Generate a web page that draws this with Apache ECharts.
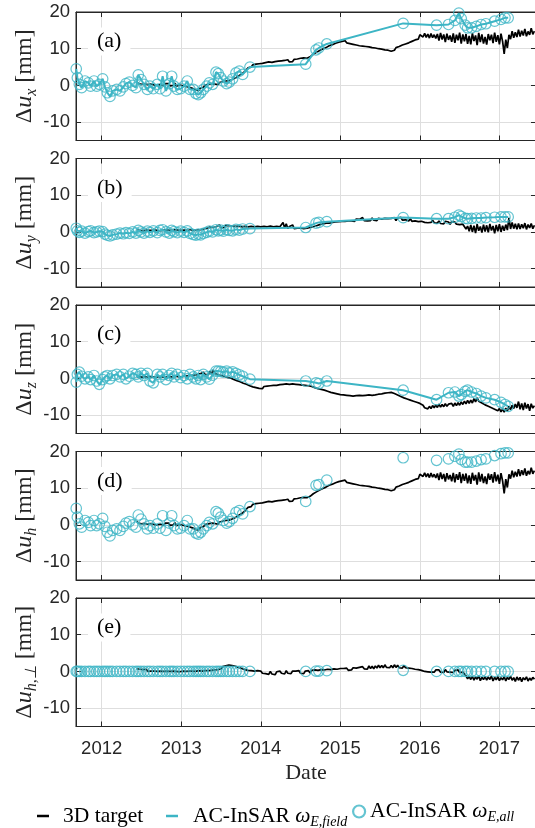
<!DOCTYPE html>
<html><head><meta charset="utf-8">
<script src="https://cdn.jsdelivr.net/npm/echarts@6/dist/echarts.min.js"></script>
<style>html,body{margin:0;padding:0;background:#fff}#c{width:535px;height:828px}</style>
</head><body><div id="c"></div>
<script>
// ---------- data ----------
const xTicks = [2012, 2013, 2014, 2015, 2016, 2017];
const yTicks = [-10, 0, 10, 20];
const panelLabels = ['(a)', '(b)', '(c)', '(d)', '(e)'];
const componentSubs = ['x', 'y', 'z', 'h', 'h,⊥'];

// 3D target time series, regular sampling every 0.02 yr from 2012.44 (decimal years)
const targetStart = 2012.44, targetStep = 0.02;
const target_ux = [
  1.1, 0.5, 0.9, 0.3, 0.8, 0.4, 0.9, 0.2, 0.7, 0.4,
  0.7, 0.1, 0.6, 0.0, 0.5, 0.2, 0.7, -0.1, 0.5, 0.1,
  0.5, -0.1, 0.4, 0.0, 0.6, -0.2, 0.3, 0.1, 0.5, -0.1,
  0.2, -0.3, 0.1, -0.5, -0.2, -0.8, -0.6, -1.2, -0.9, -1.4,
  -0.7, -0.2, -0.5, 0.1, -0.2, 0.3, 0.0, 0.5, 0.1, 0.4,
  0.6, 0.2, 0.8, 0.4, 1.0, 0.6, 1.2, 0.8, 1.3, 1.0,
  1.6, 1.3, 2.0, 1.8, 2.6, 2.4, 3.1, 3.0, 3.8, 4.3,
  4.8, 5.3, 5.0, 5.6, 5.2, 5.8, 5.4, 5.9, 5.5, 6.0,
  5.7, 6.2, 5.8, 6.4, 5.9, 6.3, 6.0, 6.5, 6.0, 6.6,
  6.1, 6.7, 6.2, 6.8, 6.3, 7.0, 6.4, 6.9, 6.5, 7.1,
  6.6, 7.2, 6.8, 7.4, 6.9, 7.5, 7.0, 7.4, 7.1, 7.8,
  7.9, 8.5, 8.4, 9.0, 8.9, 9.5, 9.3, 9.9, 9.8, 10.3,
  10.2, 10.8, 10.6, 11.1, 10.9, 11.5, 11.3, 11.8, 11.5, 12.0,
  11.7, 12.2, 11.6, 12.0, 11.4, 11.8, 11.2, 11.6, 11.0, 11.5,
  10.8, 11.3, 10.7, 11.1, 10.6, 11.0, 10.5, 10.9, 10.3, 10.8,
  10.2, 10.6, 10.0, 10.5, 9.9, 10.3, 9.7, 10.2, 9.6, 10.0,
  9.3, 8.9, 9.6, 10.3, 10.0, 10.6, 10.4, 11.0, 10.8, 11.3,
  11.0, 11.6, 11.4, 12.0, 11.8, 12.4, 12.1, 12.6, 13.8, 14.1,
  13.2, 14.2, 13.1, 14.0, 12.9, 14.1, 13.0, 13.8, 12.8, 14.0,
  12.2, 14.3, 12.5, 13.9, 11.8, 14.1, 12.4, 13.6, 11.9, 14.2,
  11.6, 13.8, 12.3, 14.4, 11.4, 13.9, 12.0, 14.0, 11.3, 13.5,
  11.2, 14.2, 12.1, 13.6, 11.0, 14.3, 11.8, 13.9, 11.4, 13.2,
  11.1, 14.0, 12.3, 13.8, 11.5, 14.4, 11.9, 13.7, 11.2, 14.1,
  12.0, 8.6, 12.5, 10.2, 13.8, 12.6, 14.8, 13.0, 14.5, 13.2,
  15.2, 13.3, 14.9, 13.6, 15.4, 13.4, 14.7, 13.8, 15.6, 13.9,
  14.8
];
const target_uy = [
  0.5, 0.0, 0.4, -0.1, 0.3, 0.0, 0.5, 0.1, 0.4, -0.1,
  0.4, 0.0, 0.5, 0.1, 0.3, -0.1, 0.4, 0.1, 0.5, 0.0,
  0.5, 0.1, 0.4, 0.0, 0.6, 0.2, 0.5, 0.1, 0.4, 0.2,
  0.5, 0.0, 0.4, 0.1, 0.6, 0.1, 0.4, 0.0, 0.5, 0.2,
  0.6, 0.3, 0.8, 0.5, 1.0, 0.7, 1.3, 0.8, 1.2, 0.9,
  1.4, 1.0, 1.9, 1.1, 1.6, 1.2, 1.8, 1.3, 1.7, 1.2,
  1.6, 1.1, 1.5, 1.0, 1.6, 1.2, 1.4, 1.0, 1.5, 1.1,
  1.4, 1.0, 1.5, 1.1, 1.4, 0.9, 1.5, 1.1, 1.4, 1.0,
  1.5, 1.1, 1.4, 0.9, 1.6, 1.1, 1.4, 1.0, 1.5, 1.2,
  1.4, 1.0, 2.6, 1.1, 2.2, 0.9, 1.5, 1.0, 1.9, 0.9,
  1.4, 1.0, 1.5, 1.1, 1.4, 0.9, 1.3, 1.0, 1.4, 1.2,
  1.6, 1.4, 1.9, 1.7, 2.2, 2.0, 2.4, 2.2, 2.6, 2.4,
  2.7, 2.4, 2.9, 2.6, 3.1, 2.7, 3.2, 2.8, 3.3, 2.9,
  3.3, 2.9, 3.4, 3.0, 3.5, 3.0, 3.4, 2.9, 3.5, 3.1,
  3.4, 3.0, 3.9, 3.1, 3.6, 3.0, 3.5, 3.1, 3.8, 3.2,
  3.6, 3.1, 3.7, 3.2, 3.5, 3.0, 3.7, 3.2, 3.6, 3.1,
  3.7, 3.2, 3.9, 3.1, 3.8, 3.3, 4.0, 3.2, 3.7, 3.3,
  3.5, 3.0, 3.6, 2.9, 3.4, 3.0, 3.5, 2.8, 3.3, 2.9,
  3.2, 2.6, 3.1, 2.5, 3.0, 2.6, 3.2, 2.5, 2.9, 2.4,
  3.0, 2.3, 2.8, 2.2, 2.9, 2.4, 2.7, 2.1, 2.8, 2.3,
  2.7, 2.1, 2.6, 2.0, 2.5, 2.1, 2.4, 0.8, 1.6, 0.2,
  1.9, 0.0, 1.7, -0.3, 2.1, 0.3, 1.5, -0.2, 2.0, 0.1,
  1.8, -0.1, 2.2, 0.4, 1.6, -0.4, 1.9, 0.2, 2.1, 0.0,
  1.7, 0.3, 2.0, 0.5, 3.8, 0.8, 2.6, 0.9, 2.2, 0.7,
  2.3, 0.8, 2.1, 1.0, 2.4, 0.7, 2.0, 1.1, 2.3, 0.9,
  1.8
];
const target_uz = [
  0.4, -0.1, 0.5, 0.0, 0.3, -0.2, 0.4, 0.1, 0.5, 0.0,
  0.4, -0.1, 0.3, 0.0, 0.5, 0.1, 0.4, -0.1, 0.3, 0.1,
  0.5, 0.0, 0.4, 0.1, 0.6, 0.2, 0.5, 0.0, 0.4, 0.2,
  0.6, 0.2, 0.7, 0.3, 0.8, 0.4, 0.9, 0.5, 1.0, 0.6,
  1.3, 0.9, 1.7, 1.1, 1.6, 1.0, 1.9, 1.2, 2.3, 1.4,
  1.6, 1.0, 1.4, 0.8, 1.1, 0.6, 0.9, 0.3, 0.6, 0.1,
  0.2, -0.3, -0.1, -0.6, -0.5, -0.9, -0.8, -1.3, -1.2, -1.6,
  -1.5, -2.0, -1.8, -2.3, -2.0, -2.5, -2.2, -2.7, -2.3, -2.8,
  -2.2, -2.7, -2.1, -2.6, -2.0, -2.5, -1.9, -2.4, -1.9, -2.4,
  -1.7, -2.2, -1.6, -2.1, -1.5, -2.0, -1.6, -2.1, -1.5, -2.0,
  -1.6, -2.1, -1.7, -2.2, -1.8, -2.3, -1.9, -2.4, -2.0, -2.5,
  -2.2, -2.7, -2.5, -3.0, -2.8, -3.3, -3.0, -3.5, -3.2, -3.7,
  -3.5, -4.0, -3.8, -4.3, -4.0, -4.5, -4.2, -4.6, -4.4, -4.8,
  -4.5, -5.0, -4.6, -5.1, -4.7, -5.2, -4.8, -5.2, -4.7, -5.1,
  -4.6, -5.1, -4.7, -5.2, -4.6, -5.0, -4.5, -5.0, -4.6, -5.1,
  -4.5, -4.9, -4.3, -4.8, -4.2, -4.6, -4.0, -4.4, -3.9, -4.3,
  -3.8, -4.2, -4.1, -4.6, -4.5, -5.0, -4.9, -5.4, -5.3, -5.8,
  -5.6, -6.1, -5.9, -6.4, -6.2, -6.7, -6.5, -7.0, -6.8, -7.3,
  -7.3, -8.0, -7.5, -8.3, -7.6, -8.2, -7.4, -8.0, -7.2, -7.9,
  -7.0, -7.8, -7.1, -7.7, -6.9, -7.6, -7.0, -7.5, -6.8, -7.6,
  -6.7, -7.4, -6.6, -7.3, -6.4, -7.1, -6.2, -6.9, -6.0, -6.8,
  -5.9, -6.7, -5.5, -6.4, -5.3, -6.2, -5.8, -6.7, -6.3, -7.2,
  -6.8, -7.6, -7.2, -8.0, -7.6, -8.4, -8.0, -8.8, -8.2, -9.1,
  -8.3, -9.2, -8.1, -8.9, -7.6, -8.5, -7.3, -8.2, -7.0, -8.0,
  -6.3, -8.4, -6.8, -8.6, -6.6, -8.2, -7.0, -8.8, -6.9, -8.1,
  -7.4
];
// horizontal component: at this resolution the curve read in (d) coincides with (a)
const target_uh = target_ux;
const target_uhp = [
  0.7, 0.2, 0.6, 0.1, 0.5, 0.2, 0.6, 0.0, 0.5, 0.1,
  0.6, 0.1, 0.5, 0.0, 0.4, 0.1, 0.6, 0.0, 0.4, 0.1,
  0.5, 0.0, 0.4, 0.1, 0.5, 0.0, 0.4, -0.1, 0.4, 0.1,
  0.5, 0.0, 0.4, 0.1, 0.6, 0.1, 0.5, 0.0, 0.4, 0.2,
  0.6, 0.1, 0.5, 0.2, 0.7, 0.2, 0.6, 0.3, 0.8, 0.4,
  0.8, 0.5, 1.0, 0.7, 1.3, 1.0, 1.5, 1.2, 1.7, 1.3,
  1.6, 1.2, 1.4, 1.0, 1.1, 0.7, 0.8, 0.4, 0.5, 0.1,
  0.3, -0.2, 0.2, -0.3, 0.1, -0.4, 0.2, -0.3, 0.1, -0.5,
  0.0, -0.6, -0.1, -0.8, 0.0, -0.7, -0.2, -0.9, -0.1, -0.6,
  0.1, -0.5, 0.0, -0.7, 0.2, -0.5, 0.0, -0.6, 0.1, -0.4,
  0.1, -0.4, 0.2, -0.5, 0.0, -0.6, 0.1, -0.3, 0.2, -0.4,
  0.3, -0.1, 0.4, 0.0, 0.3, -0.1, 0.5, 0.1, 0.4, 0.0,
  0.6, 0.2, 0.5, 0.1, 0.7, 0.3, 0.6, 0.2, 0.8, 0.3,
  0.8, 0.4, 0.9, 0.3, 0.8, 0.4, 1.0, 0.5, 0.9, 0.4,
  1.1, 0.6, 1.3, 0.7, 1.2, 0.6, 1.5, 0.8, 1.4, 0.7,
  1.5, 0.9, 1.7, 1.0, 1.6, 1.0, 1.8, 1.1, 1.6, 1.0,
  1.6, 1.0, 1.8, 1.1, 1.7, 1.0, 1.5, 0.9, 1.6, 1.0,
  1.4, 0.9, 1.3, 0.8, 1.2, 0.6, 1.0, 0.5, 0.9, 0.3,
  0.6, 0.0, 0.5, -0.1, 0.4, -0.2, 0.3, -0.2, 0.4, -0.1,
  0.4, -0.2, 0.3, -0.3, 0.5, -0.1, 0.4, -0.2, 0.3, -0.3,
  0.3, -0.2, 0.4, -0.3, 0.2, -0.2, 0.3, -1.2, -2.0, -1.4,
  -2.2, -1.3, -2.4, -1.5, -2.1, -1.2, -2.5, -1.6, -2.2, -1.4,
  -2.4, -1.5, -2.2, -1.3, -2.6, -1.6, -2.3, -1.4, -2.5, -1.7,
  -2.3, -1.4, -2.6, -1.6, -2.2, -1.3, -2.4, -1.7, -2.7, -1.5,
  -2.4, -1.6, -2.8, -1.7, -2.3, -1.5, -2.6, -1.8, -2.4, -1.6,
  -2.1
];

// AC-InSAR acquisitions (decimal years)
const insarDates = [
  2011.680, 2011.694, 2011.719, 2011.748, 2011.790, 2011.832, 2011.861, 2011.903, 2011.937, 2011.970,
  2012.012, 2012.041, 2012.071, 2012.104, 2012.138, 2012.188, 2012.230, 2012.272, 2012.305, 2012.347,
  2012.389, 2012.431, 2012.460, 2012.494, 2012.532, 2012.574, 2012.607, 2012.649, 2012.699, 2012.733,
  2012.766, 2012.808, 2012.850, 2012.880, 2012.909, 2012.951, 2012.993, 2013.035, 2013.076, 2013.110,
  2013.152, 2013.185, 2013.215, 2013.244, 2013.278, 2013.320, 2013.353, 2013.395, 2013.437, 2013.466,
  2013.496, 2013.529, 2013.571, 2013.604, 2013.646, 2013.688, 2013.730, 2013.772, 2013.864,
  2014.565, 2014.695, 2014.730, 2014.830, 2015.790, 2016.210, 2016.360, 2016.440, 2016.490, 2016.520,
  2016.570, 2016.600, 2016.650, 2016.710, 2016.770, 2016.830, 2016.940, 2017.020, 2017.070, 2017.110
];
const insar_ux = [
  4.5, 2.1, 0.3, -0.6, 1.2, 0.7, -0.2, 1.2, -0.2, 0.3,
  1.8, -0.4, -2.0, -3.0, -1.5, -1.1, -1.5, -0.4, 0.5, 0.9,
  0.0, -0.6, 2.9, 1.6, 0.3, -1.1, -0.2, -0.9, 0.3, -0.9,
  2.5, -1.5, 0.5, 2.5, -0.2, -1.1, -0.9, -0.2, 1.2, -1.1,
  -1.1, -2.2, -2.5, -2.0, -1.1, -0.2, 0.7, 0.3, 3.6, 3.2,
  2.1, 1.2, 0.5, 0.9, 1.8, 3.4, 3.9, 3.0, 5.0,
  5.8, 9.7, 10.2, 11.3, 16.9, 16.4, 16.6, 17.7, 19.7, 18.2,
  16.4, 15.7, 15.7, 16.1, 16.6, 16.8, 17.5, 18.0, 18.4, 18.4
];
const insar_uy = [
  1.0, 0.3, -0.1, 0.2, -0.3, 0.1, 0.3, -0.2, 0.0, 0.2,
  0.1, -0.6, -0.9, -1.1, -0.8, -0.6, -0.3, -0.5, -0.2, -0.4,
  0.0, -0.3, 0.4, 0.0, -0.3, 0.2, -0.1, 0.3, -0.2, 0.4,
  0.6, 0.0, -0.3, 0.4, 0.1, -0.2, 0.2, -0.1, 0.3, -0.4,
  -0.7, -0.9, -0.6, -0.8, -0.4, -0.1, 0.2, 0.0, 0.6, 0.3,
  0.5, 0.2, 0.6, 0.4, 0.3, 0.7, 0.5, 0.8, 0.9,
  1.2, 2.4, 2.6, 2.8, 3.9, 3.6, 3.6, 4.0, 4.6, 4.2,
  3.7, 3.6, 3.7, 3.8, 3.8, 3.9, 4.0, 4.1, 4.1, 4.1
];
const insar_uz = [
  -1.0, 1.1, 1.7, 0.6, -0.1, 0.4, -0.3, 0.8, -0.7, -1.6,
  -0.3, 0.4, 0.8, -0.1, 0.8, 1.1, 0.4, 1.1, -0.1, 0.6,
  1.4, 1.1, 0.4, 1.4, 0.8, 1.4, -0.7, -1.2, 1.1, 0.4,
  1.1, -0.3, 0.8, 1.4, 0.4, 1.1, 0.2, 0.8, -0.1, 1.1,
  0.4, -0.1, 0.8, -0.3, 1.1, 0.4, -0.2, 0.9, 2.0, 2.0,
  1.9, 1.7, 2.0, 1.5, 1.8, 1.4, 1.0, 0.6, -0.2,
  -0.7, -1.2, -1.4, -0.7, -3.2, -5.8, -3.9, -3.7, -4.8, -4.4,
  -3.5, -3.2, -3.7, -4.1, -4.8, -5.3, -5.8, -6.5, -7.1, -7.6
];
const insar_uh = [
  4.5, 2.1, 0.3, -0.6, 1.2, 0.7, -0.2, 1.2, -0.2, 0.3,
  1.8, -0.4, -2.0, -3.0, -1.5, -1.1, -1.5, -0.4, 0.5, 0.9,
  0.0, -0.6, 2.7, 1.6, 0.3, -1.1, -0.2, -0.9, 0.3, -0.9,
  2.5, -1.5, 0.5, 2.5, -0.2, -1.1, -0.9, -0.2, 1.2, -1.1,
  -1.1, -2.2, -2.5, -2.0, -1.1, -0.2, 0.7, 0.3, 3.6, 3.2,
  2.1, 1.2, 0.5, 0.9, 1.8, 3.4, 3.9, 3.0, 5.0,
  6.4, 10.8, 11.0, 12.2, 18.3, 17.6, 18.0, 18.7, 19.3, 17.8,
  17.1, 17.1, 17.1, 17.4, 17.8, 18.0, 18.9, 19.4, 19.6, 19.6
];
const insar_uhp = [
  0, 0, 0, 0, 0, 0, 0, 0, 0, 0,
  0, 0, 0, 0, 0, 0, 0, 0, 0, 0,
  0, 0, 0, 0, 0, 0, 0, 0, 0, 0,
  0, 0, 0, 0, 0, 0, 0, 0, 0, 0,
  0, 0, 0, 0, 0, 0, 0, 0, 0, 0,
  0, 0, 0, 0, 0, 0, 0, 0, 0,
  0, 0.1, 0.1, 0.2, 0.3, 0, 0, 0, 0, 0,
  0, 0, 0, 0, 0, 0, 0, 0, 0, 0
];

// ---------- layout / style ----------
const CYAN = '#3db5c5';
const AXC = '#262626';
const panelTops = [12, 158.5, 305, 451.5, 598];
const panelH = 128.5;
const X_MIN = 2011.677, X_MAX = 2017.46;
const Y_MIN = -15, Y_MAX = 20;
const targets = [target_ux, target_uy, target_uz, target_uh, target_uhp];
const insars = [insar_ux, insar_uy, insar_uz, insar_uh, insar_uhp];
const withLine = [true, true, true, false, false];

const SERIF = 'Liberation Serif';
const SANS = 'Liberation Sans';

const grids = [], xAxes = [], yAxes = [], series = [], titles = [];
panelTops.forEach((top, i) => {
  const last = i === 4;
  grids.push({ left: 76, width: 460, top: top, height: panelH, show: true,
    borderColor: AXC, borderWidth: 1, backgroundColor: 'transparent', outerBoundsMode: 'none', containLabel: false });
  xAxes.push({
    type: 'value', gridIndex: i, position: 'bottom', min: X_MIN, max: X_MAX,
    axisLine: { show: true, onZero: false, lineStyle: { color: AXC, width: 1 } },
    axisTick: { show: true, inside: true, length: 5, customValues: xTicks, lineStyle: { color: AXC } },
    axisLabel: { show: last, customValues: xTicks, margin: 13, fontSize: 18.5, fontFamily: SANS, color: AXC,
      formatter: v => String(Math.round(v)) },
    splitLine: { show: true, lineStyle: { color: '#dedede', width: 1 } },
    name: last ? 'Date' : '', nameLocation: 'middle', nameGap: 36, nameMoveOverlap: false,
    nameTextStyle: { fontFamily: SERIF, fontSize: 22, color: AXC }
  });
  xAxes.push({
    type: 'value', gridIndex: i, position: 'top', min: X_MIN, max: X_MAX,
    axisLine: { show: true, onZero: false, lineStyle: { color: AXC, width: 1 } },
    axisTick: { show: true, inside: true, length: 5, customValues: xTicks, lineStyle: { color: AXC } },
    axisLabel: { show: false }, splitLine: { show: false }
  });
  yAxes.push({
    type: 'value', gridIndex: i, position: 'left', min: Y_MIN, max: Y_MAX,
    axisLine: { show: true, onZero: false, lineStyle: { color: AXC, width: 1 } },
    axisTick: { show: true, inside: true, length: 5, customValues: yTicks, lineStyle: { color: AXC } },
    axisLabel: { show: true, customValues: yTicks, margin: 6, fontSize: 18.5, fontFamily: SANS, color: AXC,
      formatter: v => String(v) },
    splitLine: { show: true, lineStyle: { color: '#dedede', width: 1 } },
    name: '{d|Δ}{u|u}{s|' + componentSubs[i] + '}{m| [mm]}',
    nameLocation: 'middle', nameRotate: 90, nameGap: 36, nameMoveOverlap: false,
    nameTextStyle: { fontFamily: SERIF, fontSize: 24, color: AXC,
      rich: {
        d: { fontFamily: SERIF, fontSize: 24, lineHeight: 30, color: AXC },
        u: { fontFamily: SERIF, fontSize: 24, fontStyle: 'italic', lineHeight: 30, color: AXC },
        s: { fontFamily: SERIF, fontSize: 16, fontStyle: 'italic', lineHeight: 16, verticalAlign: 'bottom', color: AXC },
        m: { fontFamily: SERIF, fontSize: 24, lineHeight: 30, color: AXC }
      } }
  });
  yAxes.push({
    type: 'value', gridIndex: i, position: 'right', min: Y_MIN, max: Y_MAX,
    axisLine: { show: true, onZero: false, lineStyle: { color: AXC, width: 1 } },
    axisTick: { show: true, inside: true, length: 5, customValues: yTicks, lineStyle: { color: AXC } },
    axisLabel: { show: false }, splitLine: { show: false }
  });

  titles.push({ text: panelLabels[i], left: 88, top: top + 15.5, backgroundColor: '#fff', padding: [3, 9, 3, 9],
    textStyle: { fontFamily: SERIF, fontSize: 22, fontWeight: 'normal', color: '#000', lineHeight: 22 } });

  const tgt = targets[i].map((v, k) => [targetStart + targetStep * k, v]);
  series.push({ name: 'target', type: 'line', xAxisIndex: 2 * i, yAxisIndex: 2 * i, data: tgt,
    symbol: 'none', showSymbol: false, color: '#000', lineStyle: { color: '#000', width: 1.7 }, z: 2, silent: true });

  const ins = insars[i].map((v, k) => [insarDates[k], v]);
  if (withLine[i]) {
    series.push({ name: 'field', type: 'line', xAxisIndex: 2 * i, yAxisIndex: 2 * i, data: ins,
      symbol: 'none', showSymbol: false, color: CYAN, lineStyle: { color: CYAN, width: 2 }, z: 3, silent: true });
  }
  series.push({ name: 'all', type: 'scatter', xAxisIndex: 2 * i, yAxisIndex: 2 * i, data: ins,
    symbol: 'circle', symbolSize: 10.5, color: CYAN,
    itemStyle: { color: 'rgba(0,0,0,0)', borderColor: CYAN, borderWidth: 1.2 }, z: 4, silent: true });
});

const legRich = {
  n0: { fontFamily: SERIF, fontSize: 21.5, color: '#000', padding: [0, 0, 0, 9], lineHeight: 26 },
  n1: { fontFamily: SERIF, fontSize: 21.5, color: '#000', padding: [0, 0, 0, 10], lineHeight: 26 },
  n: { fontFamily: SERIF, fontSize: 21.5, color: '#000', lineHeight: 26 },
  w: { fontFamily: SERIF, fontSize: 21.5, fontStyle: 'italic', color: '#000', lineHeight: 26 },
  s: { fontFamily: SERIF, fontSize: 14, fontStyle: 'italic', color: '#000', lineHeight: 14, verticalAlign: 'bottom' }
};

const option = {
  animation: false,
  backgroundColor: '#fff',
  title: titles,
  grid: grids,
  xAxis: xAxes,
  yAxis: yAxes,
  legend: [
    { data: [{ name: 'target', icon: 'rect', itemStyle: { color: '#000' } }], left: 37, top: 805, padding: 0,
      itemWidth: 12, itemHeight: 2.5, selectedMode: false, formatter: '{n0|3D target}', textStyle: { rich: legRich } },
    { data: [{ name: 'field', icon: 'rect', itemStyle: { color: CYAN } }], left: 166, top: 805, padding: 0,
      itemWidth: 12, itemHeight: 2.5, selectedMode: false, formatter: '{n1|AC-InSAR }{w|ω}{s|E,field}', textStyle: { rich: legRich } },
    { data: [{ name: 'all', icon: 'circle', itemStyle: { color: '#fff', borderColor: CYAN, borderWidth: 2.2 } }], left: 352, top: 800.5, padding: 0,
      itemWidth: 12, itemHeight: 12, selectedMode: false, formatter: '{n|AC-InSAR }{w|ω}{s|E,all}', textStyle: { rich: legRich } }
  ],
  series: series
};

const chart = echarts.init(document.getElementById('c'), null, { renderer: 'canvas' });
chart.setOption(option);
</script>
</body></html>
